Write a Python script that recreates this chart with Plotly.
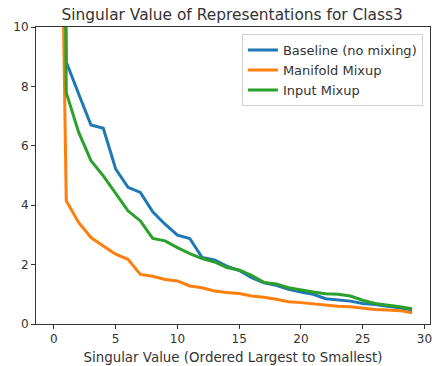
import plotly.graph_objects as go

x_index = list(range(30))
baseline = [60, 8.82, 7.75, 6.7, 6.59, 5.22, 4.6, 4.43, 3.78, 3.36, 2.99, 2.88, 2.24, 2.16, 1.95,
            1.8, 1.56, 1.39, 1.3, 1.17, 1.08, 1.0, 0.85, 0.8, 0.77, 0.69, 0.66, 0.6, 0.55, 0.47]
manifold = [31, 4.15, 3.42, 2.91, 2.63, 2.35, 2.18, 1.67, 1.61, 1.5, 1.45, 1.28, 1.22, 1.11, 1.06,
            1.03, 0.94, 0.9, 0.83, 0.75, 0.72, 0.68, 0.63, 0.6, 0.58, 0.53, 0.49, 0.47, 0.45, 0.38]
input_mix = [60, 7.79, 6.46, 5.5, 4.99, 4.4, 3.81, 3.47, 2.88, 2.8, 2.57, 2.37, 2.2, 2.09, 1.9,
             1.82, 1.64, 1.4, 1.35, 1.22, 1.14, 1.08, 1.02, 1.0, 0.94, 0.8, 0.69, 0.64, 0.58, 0.51]

series_names = ["Baseline (no mixing)", "Manifold Mixup", "Input Mixup"]
series_colors = ["#1f77b4", "#ff7f0e", "#2ca02c"]
x_ticks = [0, 5, 10, 15, 20, 25, 30]
y_ticks = [0, 2, 4, 6, 8, 10]

fig = go.Figure()
for name, vals, col in zip(series_names, [baseline, manifold, input_mix], series_colors):
    fig.add_trace(go.Scatter(x=x_index, y=vals, mode="lines", name=name,
                             line=dict(color=col, width=3)))

font_family = "DejaVu Sans, sans-serif"
fig.update_layout(
    width=434, height=366,
    margin=dict(l=36, r=4, t=27, b=42),
    paper_bgcolor="white", plot_bgcolor="white",
    font=dict(family=font_family, size=12, color="#333"),
    title=dict(text="Singular Value of Representations for Class3", x=0.535, xanchor="center",
               y=0.959, yanchor="middle", font=dict(size=15.4, color="#333")),
    showlegend=True,
    legend=dict(x=0.982, y=0.976, xanchor="right", yanchor="top",
                bgcolor="white", bordercolor="#d0d0d0", borderwidth=1,
                font=dict(size=13, color="#333"), tracegroupgap=0, itemwidth=30),
)
fig.update_xaxes(range=[-1.45, 30.45], tickvals=x_ticks, showgrid=False, zeroline=False,
                 showline=True, linecolor="#333", linewidth=1, mirror=True,
                 ticks="outside", ticklen=4, tickcolor="#333", automargin=False,
                 title=dict(text="Singular Value (Ordered Largest to Smallest)", standoff=7,
                            font=dict(size=13.4, color="#333")))
fig.update_yaxes(range=[0, 10], tickvals=y_ticks, showgrid=False, zeroline=False,
                 showline=True, linecolor="#333", linewidth=1, mirror=True,
                 ticks="outside", ticklen=4, tickcolor="#333", automargin=False)

fig.write_html("out.html")
